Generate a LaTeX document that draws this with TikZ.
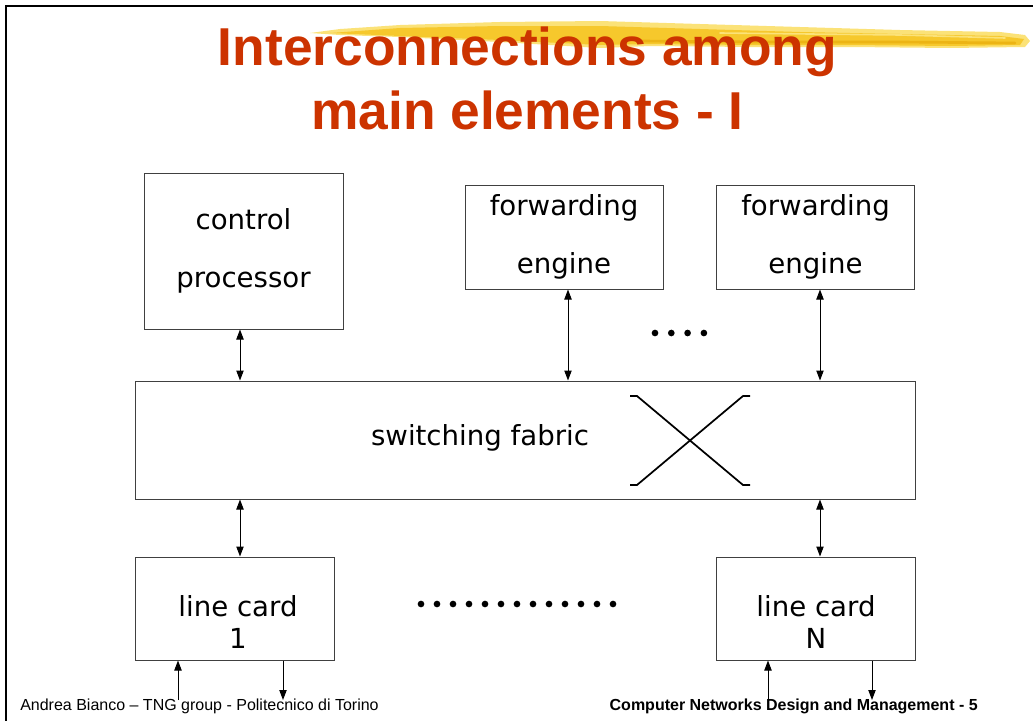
\documentclass[tikz,border=0pt]{standalone}
\usepackage{fontspec}
\usepackage{tikz}
\usetikzlibrary{arrows.meta}
\newfontfamily\headfont{Liberation Sans}
\newfontfamily\boxfont{DejaVu Sans}
\definecolor{titlered}{RGB}{204,51,0}
\definecolor{marker}{RGB}{246,200,44}
\definecolor{markerdark}{RGB}{236,180,20}
\definecolor{markerlight}{RGB}{251,226,120}

\tikzset{
  unit/.style={draw=black!75, line width=0.75pt, align=center, inner sep=0pt,
    font=\boxfont\fontsize{20.7}{44}\selectfont},
  caption/.style={align=center, inner sep=0pt,
    font=\boxfont\fontsize{20.7}{24}\selectfont},
  link/.style={<->, line width=0.75pt},
  feed/.style={->, line width=0.75pt},
  heading/.style={anchor=base, inner sep=0pt, text=titlered,
    font=\headfont\bfseries\fontsize{40}{48}\selectfont},
  footer/.style={anchor=base, inner sep=0pt, font=\headfont\fontsize{12}{14}\selectfont}
}

\begin{document}
\begin{tikzpicture}[>={Triangle[length=7.5pt,width=5.5pt]},x=0.75pt,y=-0.75pt]
\useasboundingbox (0,0) rectangle (1033,721);
% slide frame
\draw[line width=2.2pt] (6,721) -- (6,6) -- (1033,6);
% marker stroke behind the title
\fill[markerlight] (310,33) -- (340,29) -- (400,25) -- (500,22) -- (600,21) -- (700,24)
  -- (800,27) -- (900,30) -- (1000,32) -- (1025,35) -- (1030,41) -- (1025,47)
  -- (950,48) -- (850,47) -- (750,47) -- (650,46) -- (600,48) -- (500,42)
  -- (400,37) -- (340,35) -- cycle;
\fill[marker] (330,33) -- (400,28) -- (500,26) -- (600,26) -- (700,29)
  -- (800,32) -- (900,34) -- (1000,36) -- (1024,39) -- (1020,45)
  -- (950,46) -- (850,45) -- (750,45) -- (650,44) -- (600,45) -- (500,40)
  -- (400,36) -- cycle;
\draw[markerdark, line width=2pt, line cap=round] (640,41) -- (760,42) -- (900,42) -- (1015,43);
\draw[markerlight, line width=1.2pt, line cap=round] (720,33) -- (900,35) -- (1005,38);
\node[heading] (title1) at (527.5,65) {Interconnections among};
\node[heading] (title2) at (527.5,129) {main elements - I};

% boxes
\node[unit, minimum width=149.25pt, minimum height=117pt] (cp) at (243.5,251) {control\\processor};
\node[unit, minimum width=148.5pt, minimum height=78pt] (fe1) at (564,237) {forwarding\\engine};
\node[unit, minimum width=148.5pt, minimum height=78pt] (fe2) at (815.5,237) {forwarding\\engine};
\node[unit, minimum width=585pt, minimum height=88.5pt] (sf) at (525,440) {};
\node[caption] (sftxt) at (480,438) {switching fabric};
\node[unit, minimum width=149.25pt, minimum height=77.25pt] (lc1) at (234.5,608.5) {};
\node[caption] (lc1txt) at (238,622) {line card\\1};
\node[unit, minimum width=149.25pt, minimum height=77.25pt] (lcN) at (815.5,608.5) {};
\node[caption] (lcNtxt) at (816,622) {line card\\N};

% crossbar symbol
\draw[line width=1.3pt] (630,396) -- (637,396) -- (743,485) -- (750,485);
\draw[line width=1.3pt] (630,485) -- (637,485) -- (743,396) -- (750,396);

% dots
\foreach \i in {0,...,3}
  \fill (655+16.3*\i,333) circle[radius=2.5pt];
\foreach \i in {0,...,12}
  \fill (421+16*\i,604) circle[radius=2.5pt];

% footers
\node[footer, anchor=base west] (author) at (20,710) {Andrea Bianco – TNG group - Politecnico di Torino};
\node[footer, anchor=base east, font=\headfont\bfseries\fontsize{12}{14}\selectfont] (course) at (978,710) {Computer Networks Design and Management - 5};

% links
\draw[link] (240,0 |- cp.south) -- (240,0 |- sf.north);
\draw[link] (568,0 |- fe1.south) -- (568,0 |- sf.north);
\draw[link] (820,0 |- fe2.south) -- (820,0 |- sf.north);
\draw[link] (240,0 |- sf.south) -- (240,0 |- lc1.north);
\draw[link] (820,0 |- sf.south) -- (820,0 |- lcN.north);

\coordinate (in1) at (178,700);
\coordinate (out1) at (283,700);
\coordinate (inN) at (768,700);
\coordinate (outN) at (872,700);
\draw[feed] (in1) -- (in1 |- lc1.south);
\draw[feed] (out1 |- lc1.south) -- (out1);
\draw[feed] (inN) -- (inN |- lcN.south);
\draw[feed] (outN |- lcN.south) -- (outN);
\end{tikzpicture}
\end{document}
